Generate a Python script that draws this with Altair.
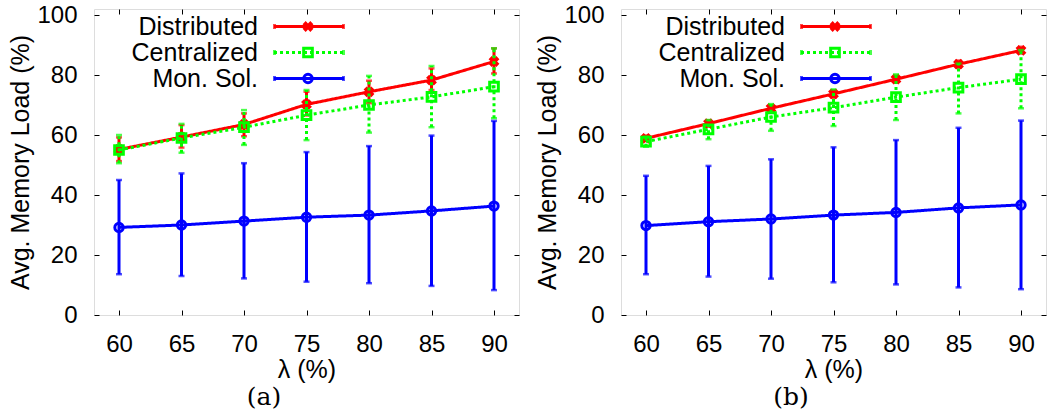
import altair as alt
import pandas as pd

# ---------------- data ----------------
lambdas = [60, 65, 70, 75, 80, 85, 90]
series_names = ["Distributed", "Centralized", "Mon. Sol."]

# panel (a)
a_dist = [55.2, 59.3, 63.5, 70.2, 74.4, 78.3, 84.5]
a_dist_lo = [51.3, 55.8, 59.6, 66.5, 70.6, 75.0, 80.5]
a_dist_hi = [59.2, 63.3, 67.2, 74.4, 78.1, 82.2, 88.9]
a_cent = [55.0, 59.0, 62.6, 66.6, 70.0, 72.7, 76.1]
a_cent_lo = [50.6, 54.1, 56.7, 58.3, 60.8, 62.6, 65.6]
a_cent_hi = [60.0, 63.7, 68.3, 75.0, 79.7, 83.0, 88.9]
a_mon = [29.2, 30.0, 31.3, 32.6, 33.3, 34.7, 36.3]
a_mon_lo = [13.6, 13.0, 12.2, 11.1, 10.6, 9.7, 8.3]
a_mon_hi = [45.0, 47.2, 50.6, 54.3, 56.3, 59.8, 64.7]

# panel (b)
b_dist = [58.9, 63.8, 68.9, 73.7, 78.6, 83.6, 88.2]
b_dist_lo = [58.0, 62.8, 67.8, 72.4, 77.4, 82.4, 87.2]
b_dist_hi = [59.8, 64.9, 69.9, 74.9, 79.8, 84.8, 89.4]
b_cent = [57.8, 61.9, 66.0, 69.1, 72.6, 75.8, 78.6]
b_cent_lo = [56.1, 58.6, 61.4, 63.0, 65.0, 67.2, 68.9]
b_cent_hi = [59.4, 65.0, 70.3, 75.2, 80.2, 83.8, 88.3]
b_mon = [29.8, 31.1, 32.0, 33.3, 34.2, 35.7, 36.7]
b_mon_lo = [13.6, 12.8, 12.1, 10.9, 10.2, 9.2, 8.6]
b_mon_hi = [46.4, 49.7, 51.9, 55.9, 58.3, 62.4, 64.8]

y_ticks = [0, 20, 40, 60, 80, 100]
x_title = "λ (%)"
y_title = "Avg. Memory Load (%)"

# ---------------- styles ----------------
colors = {"Distributed": "#ff0000", "Centralized": "#00ff00", "Mon. Sol.": "#0000ff"}
dashes = {"Distributed": [1, 0], "Centralized": [3, 3], "Mon. Sol.": [1, 0]}
W, H = 425, 306
LEG_ROWS = {"Distributed": 17.5, "Centralized": 43.5, "Mon. Sol.": 69.5}


def panel_df(vals):
    rows = []
    for name, (v, lo, hi) in zip(series_names, vals):
        for lam, a, b, c in zip(lambdas, v, lo, hi):
            rows.append({"lam": lam, "series": name, "val": a, "lo": b, "hi": c})
    return pd.DataFrame(rows)


xscale = alt.Scale(domain=[58, 92], nice=False, zero=False)
yscale = alt.Scale(domain=[0, 102], nice=False)

xaxis = alt.Axis(values=lambdas, labelFont="Liberation Sans", labelFontSize=24,
                 labelColor="black", labelPadding=17, domain=False, ticks=False,
                 grid=True, gridColor="black", gridWidth=1,
                 gridDash=[5, H - 10, 5, 2000],
                 titleFont="Liberation Sans", titleFontSize=25, titleFontWeight="normal",
                 titleColor="black", titlePadding=1)
yaxis = alt.Axis(values=y_ticks, labelFont="Liberation Sans", labelFontSize=24,
                 labelColor="black", labelPadding=17, domain=False, ticks=False,
                 grid=True, gridColor="black", gridWidth=1,
                 gridDash=[5, W - 10, 5, 2000],
                 titleFont="Liberation Sans", titleFontSize=25, titleFontWeight="normal",
                 titleColor="black", titlePadding=3)


def X(field):
    return alt.X(field, type="quantitative", scale=xscale, axis=xaxis, title=x_title)


def Y(field):
    return alt.Y(field, type="quantitative", scale=yscale, axis=yaxis, title=y_title)


def marker(b, name, x, y):
    col = colors[name]
    if name == "Distributed":
        return b.mark_point(shape="cross", angle=45, filled=True, color=col,
                            size=120, opacity=1).encode(x=x, y=y)
    if name == "Centralized":
        return b.mark_point(shape="square", filled=False, color=col, strokeWidth=3,
                            size=75, opacity=1).encode(x=x, y=y)
    return b.mark_point(shape="circle", filled=False, color=col, strokeWidth=3,
                        size=70, opacity=1).encode(x=x, y=y)


def series_layers(base, name):
    col = colors[name]
    dash = dashes[name]
    b = base.transform_filter(alt.datum.series == name)
    bars = b.mark_rule(color=col, strokeWidth=3, strokeDash=dash).encode(
        x=X("lam"), y=Y("lo"), y2="hi")
    caps = b.transform_fold(["lo", "hi"], as_=["end", "yy"]).mark_tick(
        color=col, orient="horizontal", size=6, thickness=2.5).encode(
        x=X("lam"), y=Y("yy"))
    line = b.mark_line(color=col, strokeWidth=3, strokeDash=dash).encode(
        x=X("lam"), y=Y("val"))
    pts = marker(b, name, X("lam"), Y("val"))
    return [bars, caps, line, pts]


def legend_layers(base, name):
    col = colors[name]
    dash = dashes[name]
    yy = LEG_ROWS[name]
    b = base.transform_filter(alt.datum.series == name).transform_aggregate(
        n="count()", groupby=["series"])
    txt = b.mark_text(align="right", baseline="middle", font="Liberation Sans",
                      fontSize=25, color="black").encode(
        x=alt.value(164), y=alt.value(yy), text="series:N")
    rule = b.mark_rule(color=col, strokeWidth=3, strokeDash=dash).encode(
        x=alt.value(180), x2=alt.value(250), y=alt.value(yy))
    capl = b.mark_tick(color=col, orient="vertical", size=5, thickness=3).encode(
        x=alt.value(180.5), y=alt.value(yy))
    capr = b.mark_tick(color=col, orient="vertical", size=5, thickness=3).encode(
        x=alt.value(249.5), y=alt.value(yy))
    pt = marker(b, name, alt.value(214), alt.value(yy))
    return [txt, rule, capl, capr, pt]


def make_panel(df, label):
    base = alt.Chart(df)
    layers = []
    for name in series_names:
        layers += series_layers(base, name)
    for name in series_names:
        layers += legend_layers(base, name)
    return alt.layer(*layers).properties(
        width=W, height=H,
        title=alt.TitleParams(label, orient="bottom", anchor="middle", frame="bounds",
                              font="DejaVu Serif", fontSize=25, fontWeight="normal",
                              color="black", offset=3))


df_a = panel_df([(a_dist, a_dist_lo, a_dist_hi), (a_cent, a_cent_lo, a_cent_hi),
                 (a_mon, a_mon_lo, a_mon_hi)])
df_b = panel_df([(b_dist, b_dist_lo, b_dist_hi), (b_cent, b_cent_lo, b_cent_hi),
                 (b_mon, b_mon_lo, b_mon_hi)])

chart = alt.hconcat(make_panel(df_a, "(a)"), make_panel(df_b, "(b)"), spacing=15).properties(
    padding={"left": 8, "top": 2, "right": 0, "bottom": 0}
).configure_view(stroke="black", strokeWidth=1.5).configure(background="white")

chart.save("out.html", embed_options={"renderer": "svg", "actions": False})
